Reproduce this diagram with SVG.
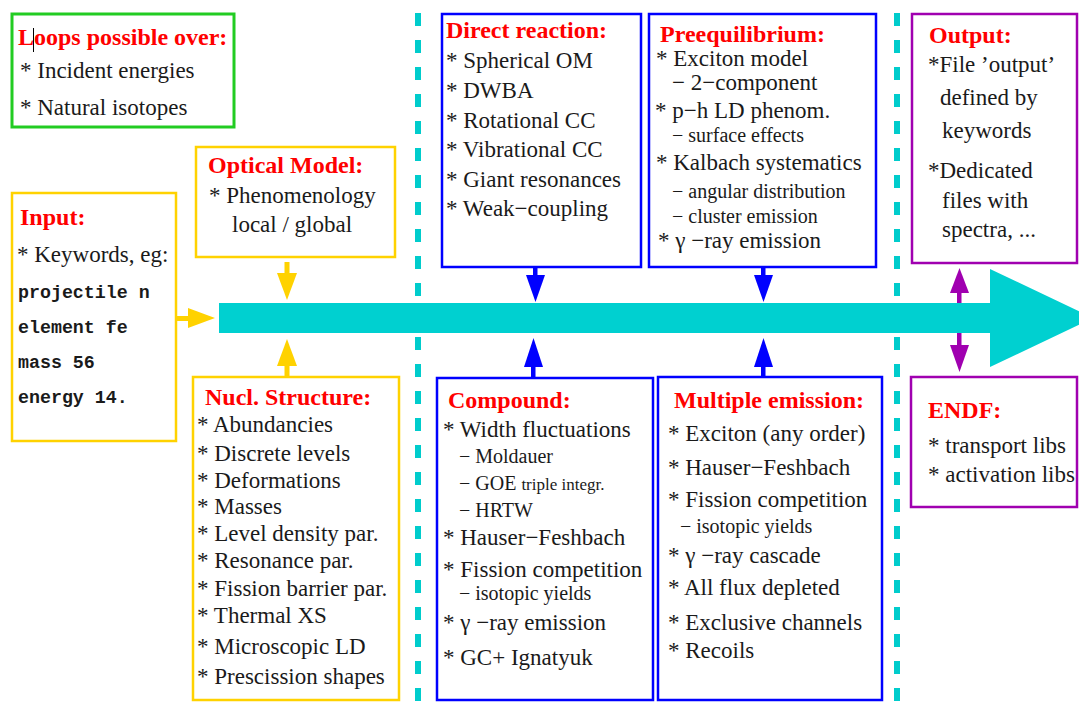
<svg xmlns="http://www.w3.org/2000/svg" width="1079" height="702" viewBox="0 0 1079 702">
<style>
text{font-family:"Liberation Serif","Times New Roman",serif;fill:#1a1a1a;font-size:23px}
.t{fill:#ff0000;font-weight:bold;font-size:24px}
.s{font-size:20px}
.xs{font-size:17px}
.m{font-family:"Liberation Mono","Courier New",monospace;font-weight:bold;font-size:18.3px}
.by{fill:#fff;stroke:#ffd200;stroke-width:2.5}
.bb{fill:#fff;stroke:#0000ff;stroke-width:2.5}
.bp{fill:#fff;stroke:#a000b0;stroke-width:2.5}
.bg{fill:#fff;stroke:#22cc22;stroke-width:3}
.dash{stroke:#00cccc;stroke-width:6;stroke-dasharray:13 14}
</style>
<rect width="1079" height="702" fill="#fff"/>
<g id="separators">
<line class="dash" x1="418" y1="13" x2="418" y2="702"/>
<line class="dash" x1="897" y1="13" x2="897" y2="702"/>
</g>
<g id="connectors">
<polygon id="main-flow" points="219,303 990,303 990,269 1093,318 990,367 990,333 219,333" fill="#00d0d0"/>
<g fill="#ffd200" stroke="none">
<rect x="177" y="316" width="12" height="5"/><polygon points="188,308 215,318 188,328"/>
<rect x="284.5" y="262" width="5" height="12"/><polygon points="277,273 297,273 287,300"/>
<rect x="284.5" y="365" width="5" height="13"/><polygon points="277,366 297,366 287,339"/>
</g>
<g fill="#0000ff" stroke="none">
<rect x="533" y="266" width="4.5" height="10"/><polygon points="526,275 545,275 535.5,302"/>
<rect x="761" y="266" width="4.5" height="10"/><polygon points="754,275 773,275 763.5,302"/>
<rect x="531" y="366" width="4.5" height="13"/><polygon points="524,367 543,367 533.5,338"/>
<rect x="761" y="366" width="4.5" height="12"/><polygon points="754,367 773,367 763.5,338"/>
</g>
<g fill="#a000b0" stroke="none">
<rect x="957" y="292" width="4.5" height="11"/><polygon points="950,293 969,293 959.5,268"/>
<rect x="957" y="333" width="4.5" height="13"/><polygon points="950,345 969,345 959.5,372"/>
</g>
</g>
<g id="loops">
<rect class="bg" x="12" y="14" width="222" height="113"/>
<text class="t" x="18" y="45">Loops possible over:</text>
<line x1="33.5" y1="28" x2="33.5" y2="52" stroke="#000" stroke-width="1"/>
<text x="20" y="78">* Incident energies</text>
<text x="20" y="115">* Natural isotopes</text>
</g>
<g id="input">
<rect class="by" x="12" y="193" width="164" height="248"/>
<text class="t" x="20" y="225">Input:</text>
<text x="17" y="262">* Keywords, eg:</text>
<text class="m" x="18" y="298">projectile n</text>
<text class="m" x="18" y="333">element fe</text>
<text class="m" x="18" y="368">mass 56</text>
<text class="m" x="18" y="403">energy 14.</text>
</g>
<g id="optical-model">
<rect class="by" x="196" y="147" width="199" height="110"/>
<text class="t" x="208" y="173">Optical Model:</text>
<text x="209" y="203">* Phenomenology</text>
<text x="232" y="232">local / global</text>
</g>
<g id="nucl-structure">
<rect class="by" x="193" y="377" width="206" height="323"/>
<text class="t" x="205" y="405">Nucl. Structure:</text>
<text x="197" y="432">* Abundancies</text>
<text x="197" y="461">* Discrete levels</text>
<text x="197" y="488">* Deformations</text>
<text x="197" y="514">* Masses</text>
<text x="197" y="541">* Level density par.</text>
<text x="197" y="568">* Resonance par.</text>
<text x="197" y="596">* Fission barrier par.</text>
<text x="197" y="623">* Thermal XS</text>
<text x="197" y="654">* Microscopic LD</text>
<text x="197" y="684">* Prescission shapes</text>
</g>
<g id="direct-reaction">
<rect class="bb" x="442" y="14" width="199" height="253"/>
<text class="t" x="446" y="38">Direct reaction:</text>
<text x="446" y="68">* Spherical OM</text>
<text x="446" y="98">* DWBA</text>
<text x="446" y="128">* Rotational CC</text>
<text x="446" y="157">* Vibrational CC</text>
<text x="446" y="187">* Giant resonances</text>
<text x="446" y="216">* Weak−coupling</text>
</g>
<g id="preequilibrium">
<rect class="bb" x="649" y="14" width="227" height="253"/>
<text class="t" x="660" y="42">Preequilibrium:</text>
<text x="656" y="66">* Exciton model</text>
<text x="672" y="90">− 2−component</text>
<text x="655" y="118">* p−h LD phenom.</text>
<text class="s" x="672" y="142">− surface effects</text>
<text x="656" y="170">* Kalbach systematics</text>
<text class="s" x="672" y="198">− angular distribution</text>
<text class="s" x="672" y="223">− cluster emission</text>
<text x="658" y="248">* γ −ray emission</text>
</g>
<g id="compound">
<rect class="bb" x="437" y="378" width="216" height="322"/>
<text class="t" x="448" y="408">Compound:</text>
<text x="443" y="437">* Width fluctuations</text>
<text class="s" x="459" y="463">− Moldauer</text>
<text class="s" x="459" y="490">− GOE <tspan class="xs">triple integr.</tspan></text>
<text class="s" x="459" y="517">− HRTW</text>
<text x="443" y="545">* Hauser−Feshbach</text>
<text x="443" y="577">* Fission competition</text>
<text class="s" x="459" y="600">− isotopic yields</text>
<text x="443" y="630">* γ −ray emission</text>
<text x="443" y="665">* GC+ Ignatyuk</text>
</g>
<g id="multiple-emission">
<rect class="bb" x="658" y="377" width="224" height="323"/>
<text class="t" x="674" y="408">Multiple emission:</text>
<text x="668" y="441">* Exciton (any order)</text>
<text x="668" y="475">* Hauser−Feshbach</text>
<text x="668" y="507">* Fission competition</text>
<text class="s" x="680" y="533">− isotopic yields</text>
<text x="668" y="563">* γ −ray cascade</text>
<text x="668" y="595">* All flux depleted</text>
<text x="668" y="630">* Exclusive channels</text>
<text x="668" y="658">* Recoils</text>
</g>
<g id="output">
<rect class="bp" x="912" y="14" width="165" height="249"/>
<text class="t" x="929" y="43">Output:</text>
<text x="928" y="72">*File ’output’</text>
<text x="940" y="105">defined by</text>
<text x="942" y="138">keywords</text>
<text x="928" y="178">*Dedicated</text>
<text x="942" y="208">files with</text>
<text x="942" y="237">spectra, ...</text>
</g>
<g id="endf">
<rect class="bp" x="911" y="377" width="166" height="130"/>
<text class="t" x="928" y="418">ENDF:</text>
<text x="928" y="453">* transport libs</text>
<text x="928" y="482">* activation libs</text>
</g>
</svg>
